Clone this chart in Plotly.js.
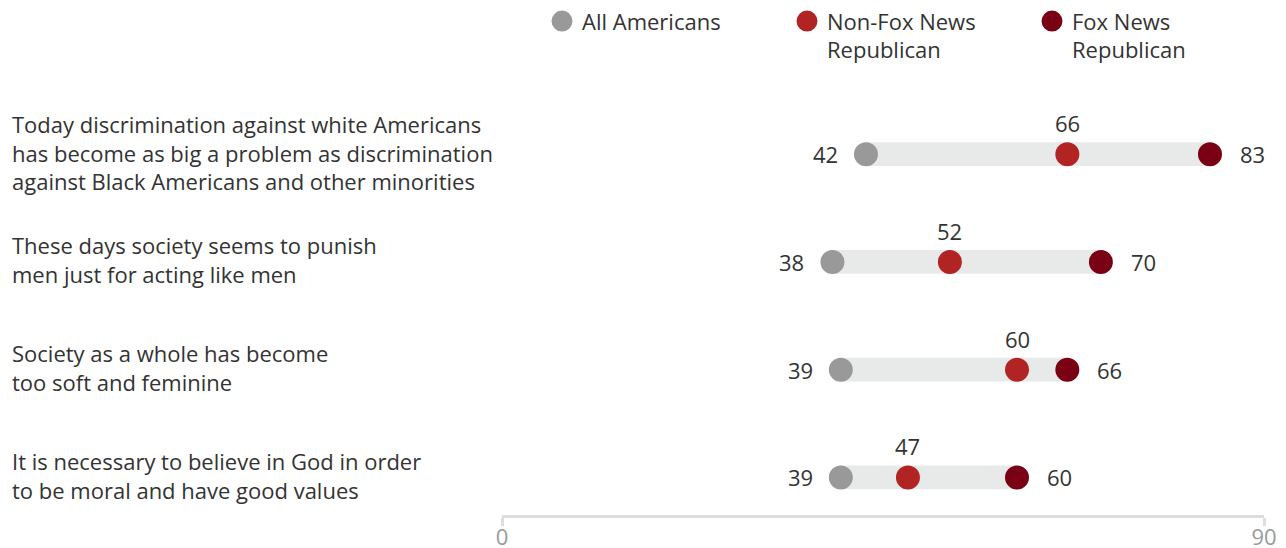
<!DOCTYPE html>
<html>
<head>
<meta charset="utf-8">
<script src="https://cdn.plot.ly/plotly-3.0.1.min.js"></script>
<style>html,body{margin:0;padding:0;background:#fff;}#chart{width:1286px;height:548px;}</style>
</head>
<body>
<div id="chart"></div>
<script>
var categories = [
  "Today discrimination against white Americans<br>has become as big a problem as discrimination<br>against Black Americans and other minorities",
  "These days society seems to punish<br>men just for acting like men",
  "Society as a whole has become<br>too soft and feminine",
  "It is necessary to believe in God in order<br>to be moral and have good values"
];
var seriesNames = ["All Americans", "Non-Fox News<br>Republican", "Fox News<br>Republican"];
var allAmericans = [42, 38, 39, 39];
var nonFoxRepublican = [66, 52, 60, 47];
var foxRepublican = [83, 70, 66, 60];
var axisTicks = [0, 90];

var colors = ["#999999", "#b22424", "#7a0014"];
var series = [allAmericans, nonFoxRepublican, foxRepublican];
var FONT = "Open Sans, sans-serif";
var FS = 22;

var mins = categories.map(function(c, i){ return Math.min(allAmericans[i], nonFoxRepublican[i], foxRepublican[i]); });
var maxs = categories.map(function(c, i){ return Math.max(allAmericans[i], nonFoxRepublican[i], foxRepublican[i]); });

var traces = [];
traces.push({
  type: "bar", orientation: "h", y: categories,
  base: mins, x: maxs.map(function(m, i){ return m - mins[i]; }),
  width: 0.22, marker: {color: "#e8e9e9"},
  showlegend: false, hoverinfo: "skip"
});
series.forEach(function(vals, k){
  traces.push({
    type: "scatter", mode: "markers", name: seriesNames[k],
    x: vals, y: categories,
    marker: {size: 19, color: colors[k], line: {width: 5, color: colors[k]}},
    hoverinfo: "skip"
  });
});
// invisible anchor trace for the reference axis
traces.push({
  type: "scatter", mode: "markers", x: axisTicks, y: [categories[0], categories[0]],
  xaxis: "x2", yaxis: "y", marker: {opacity: 0}, showlegend: false, hoverinfo: "skip"
});

var annotations = [];
categories.forEach(function(c, i){
  annotations.push({xref: "paper", yref: "y", x: 10/1286, y: c, text: c, showarrow: false,
    xanchor: "left", yanchor: "middle", align: "left", yshift: 2,
    font: {family: FONT, size: FS, color: "#333333"}});
  annotations.push({xref: "x", yref: "y", x: allAmericans[i], y: c, text: String(allAmericans[i]),
    showarrow: false, xanchor: "right", yanchor: "middle", xshift: -26,
    font: {family: FONT, size: FS, color: "#333333"}});
  annotations.push({xref: "x", yref: "y", x: foxRepublican[i], y: c, text: String(foxRepublican[i]),
    showarrow: false, xanchor: "left", yanchor: "middle", xshift: 28,
    font: {family: FONT, size: FS, color: "#333333"}});
  annotations.push({xref: "x", yref: "y", x: nonFoxRepublican[i], y: c, text: String(nonFoxRepublican[i]),
    showarrow: false, xanchor: "center", yanchor: "middle", yshift: 31,
    font: {family: FONT, size: FS, color: "#333333"}});
});

var layout = {
  width: 1286, height: 548,
  margin: {l: 0, r: 0, t: 0, b: 0},
  paper_bgcolor: "#ffffff", plot_bgcolor: "rgba(0,0,0,0)",
  font: {family: FONT, size: FS, color: "#333333"},
  showlegend: true,
  legend: {
    orientation: "h", x: 542/1286, xanchor: "left", y: 1.005, yanchor: "top",
    valign: "top", entrywidth: 200, entrywidthmode: "pixels",
    font: {family: FONT, size: FS, color: "#333333"}, traceorder: "normal"
  },
  xaxis: {
    domain: [513.6/1286, 1268.7/1286], range: [0, 90],
    showline: false, showgrid: false, zeroline: false, showticklabels: false, ticks: "",
    fixedrange: true
  },
  xaxis2: {
    domain: [502/1286, 1264/1286], range: [0, 90], anchor: "free", position: 1 - 516/548,
    tickvals: axisTicks, ticktext: axisTicks.map(String),
    showline: true, linecolor: "#dddddd", linewidth: 3,
    ticks: "outside", ticklen: 8, tickwidth: 3, tickcolor: "#dddddd",
    ticklabelstandoff: -8,
    tickfont: {family: FONT, size: FS, color: "#999999"},
    showgrid: false, zeroline: false, fixedrange: true
  },
  yaxis: {
    type: "category", categoryarray: categories, categoryorder: "array",
    domain: [0, 1], range: [3.655, -1.403],
    showline: false, showgrid: false, zeroline: false, showticklabels: false, ticks: "",
    fixedrange: true
  },
  annotations: annotations
};

Plotly.newPlot("chart", traces, layout, {displayModeBar: false, staticPlot: true});
</script>
</body>
</html>
